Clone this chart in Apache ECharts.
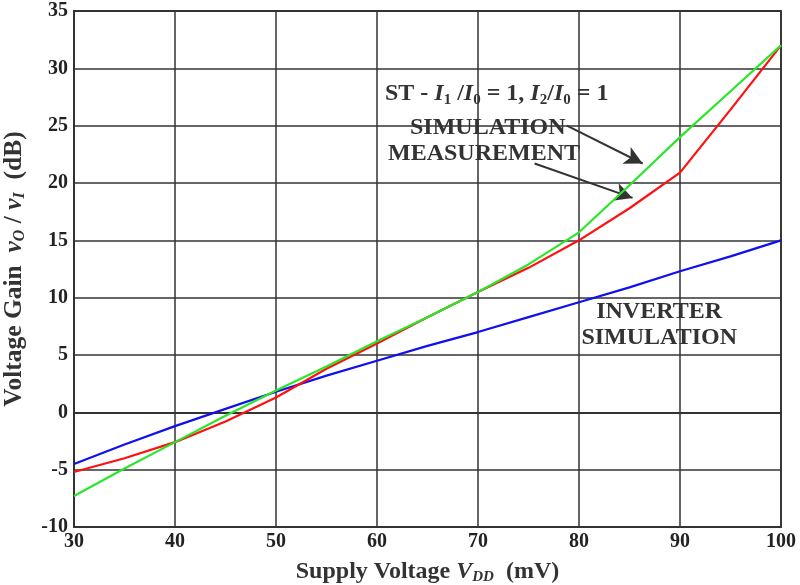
<!DOCTYPE html>
<html>
<head>
<meta charset="utf-8">
<script src="https://cdn.jsdelivr.net/npm/echarts@6/dist/echarts.min.js"></script>
<style>
  html, body { margin: 0; padding: 0; background: #fff; }
  #chart { width: 800px; height: 585px; }
</style>
</head>
<body>
<div id="chart"></div>
<script>
// Supply voltage (mV)
const vdd = [30, 35, 40, 45, 50, 55, 60, 65, 70, 75, 80, 85, 90, 95, 100];
// Schmitt-trigger gain, simulation (dB)
const stSimulation = [-7.3, -4.9, -2.6, -0.3, 1.9, 4.0, 6.2, 8.3, 10.5, 12.9, 15.7, 19.8, 24.0, 28.0, 32.0];
// Schmitt-trigger gain, measurement (dB)
const stMeasurement = [-5.2, -4.0, -2.6, -0.8, 1.3, 3.8, 6.0, 8.3, 10.5, 12.6, 15.0, 17.8, 20.9, 26.4, 32.0];
// Inverter gain, simulation (dB)
const inverterSimulation = [-4.5, -2.8, -1.2, 0.3, 1.8, 3.2, 4.5, 5.8, 7.0, 8.3, 9.6, 10.9, 12.3, 13.6, 15.0];
// Axis ticks
const xTicks = [30, 40, 50, 60, 70, 80, 90, 100];
const yTicks = [-10, -5, 0, 5, 10, 15, 20, 25, 30, 35];

const serif = '"Liberation Serif", "DejaVu Serif", serif';
const textColor = '#333';
const gridColor = '#333';

const pairs = (xs, ys) => xs.map((x, i) => [x, ys[i]]);

const chart = echarts.init(document.getElementById('chart'));

// rich-text styles for axis names: normal, italic, subscript
const makeNameRich = (size, subSize, subDrop) => ({
  n: { fontFamily: serif, fontWeight: 'bold', fontSize: size, color: textColor },
  i: { fontFamily: serif, fontWeight: 'bold', fontStyle: 'italic', fontSize: size, color: textColor },
  s: { fontFamily: serif, fontWeight: 'bold', fontStyle: 'italic', fontSize: subSize, color: textColor, padding: [subDrop, 0, 0, 0] }
});

const annotationFont = 'bold 24px ' + serif;

chart.setOption({
  backgroundColor: '#fff',
  animation: false,
  grid: {
    left: 74, right: 19, top: 11, bottom: 58,
    outerBoundsMode: 'none',
    show: true, borderColor: gridColor, borderWidth: 1.8
  },
  xAxis: {
    type: 'value',
    min: xTicks[0], max: xTicks[xTicks.length - 1], interval: 10,
    axisLine: { show: true, lineStyle: { color: gridColor, width: 1.8 } },
    axisTick: { show: false },
    splitLine: { show: true, lineStyle: { color: gridColor, width: 1.5 } },
    axisLabel: { fontFamily: serif, fontWeight: 'bold', fontSize: 20, color: '#222', margin: 5 },
    name: '{n|Supply Voltage }{i|V}{s|DD}{n|  (mV)}',
    nameLocation: 'middle', nameGap: 31,
    nameTextStyle: { rich: makeNameRich(24, 15, 12) }
  },
  yAxis: {
    type: 'value',
    min: yTicks[0], max: yTicks[yTicks.length - 1], interval: 5,
    axisLine: { show: true, lineStyle: { color: gridColor, width: 1.8 } },
    axisTick: { show: false },
    splitLine: { show: true, lineStyle: { color: gridColor, width: 1.5 } },
    axisLabel: { fontFamily: serif, fontWeight: 'bold', fontSize: 20, color: '#222', margin: 6 },
    name: '{n|Voltage Gain  }{i|v}{s|O}{n| / }{i|v}{s|I}{n|  (dB)}',
    nameLocation: 'middle', nameRotate: 90, nameGap: 46,
    nameTextStyle: { rich: makeNameRich(25.5, 16, 12) }
  },
  series: [
    {
      name: 'INVERTER SIMULATION', type: 'line', data: pairs(vdd, inverterSimulation),
      showSymbol: false, lineStyle: { color: '#1010ee', width: 2.2 }, z: 3
    },
    {
      name: 'MEASUREMENT', type: 'line', data: pairs(vdd, stMeasurement),
      showSymbol: false, lineStyle: { color: '#ff1010', width: 2.2 }, z: 4
    },
    {
      name: 'SIMULATION', type: 'line', data: pairs(vdd, stSimulation),
      showSymbol: false, lineStyle: { color: '#2ae62a', width: 2.2 }, z: 5,
      markLine: {
        silent: true,
        symbol: ['none', 'arrow'],
        symbolSize: [14, 18],
        label: { show: false },
        lineStyle: { color: '#333', width: 2, type: 'solid' },
        data: [
          [{ coord: [78.8, 25.0] }, { coord: [86.3, 21.7] }],
          [{ coord: [75.6, 21.7] }, { coord: [85.3, 18.7] }]
        ]
      }
    }
  ],
  graphic: [
    {
      type: 'text', x: 385, y: 94, z: 10,
      style: {
        text: '{n|ST - }{i|I}{s|1}{n| /}{i|I}{s|0}{n| = 1, }{i|I}{s|2}{n|/}{i|I}{s|0}{n| = 1}',
        verticalAlign: 'middle',
        rich: {
          n: { fontFamily: serif, fontWeight: 'bold', fontSize: 24, fill: textColor },
          i: { fontFamily: serif, fontWeight: 'bold', fontStyle: 'italic', fontSize: 24, fill: textColor },
          s: { fontFamily: serif, fontWeight: 'bold', fontSize: 15, fill: textColor, padding: [12, 0, 0, 0] }
        }
      }
    },
    {
      type: 'text', x: 410, y: 128, z: 10,
      style: { text: 'SIMULATION', font: annotationFont, fill: textColor, verticalAlign: 'middle' }
    },
    {
      type: 'text', x: 388, y: 154, z: 10,
      style: { text: 'MEASUREMENT', font: annotationFont, fill: textColor, verticalAlign: 'middle' }
    },
    {
      type: 'text', x: 722, y: 312, z: 10,
      style: { text: 'INVERTER', font: annotationFont, fill: textColor, align: 'right', verticalAlign: 'middle' }
    },
    {
      type: 'text', x: 737, y: 338, z: 10,
      style: { text: 'SIMULATION', font: annotationFont, fill: textColor, align: 'right', verticalAlign: 'middle' }
    }
  ]
});
</script>
</body>
</html>
